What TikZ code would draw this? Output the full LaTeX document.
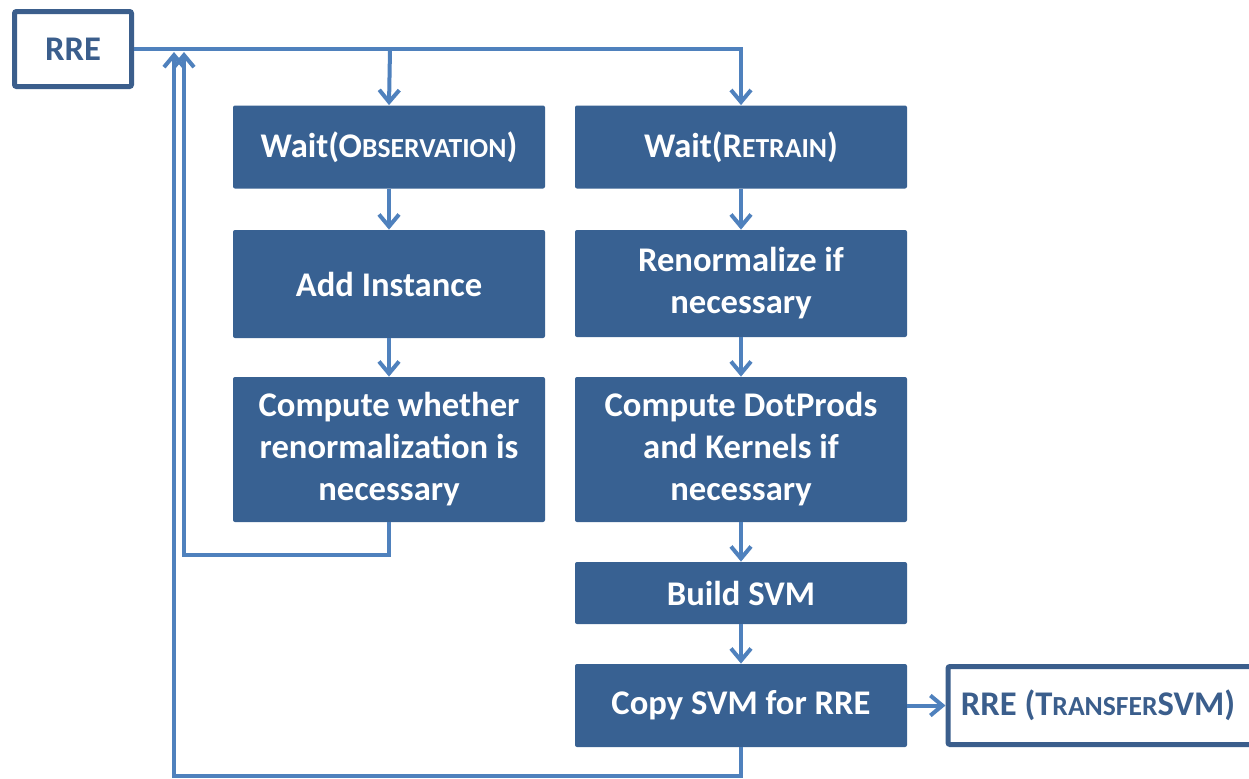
\documentclass[tikz,border=0pt]{standalone}
\usepackage{fontspec}
\setmainfont{Carlito}
\usetikzlibrary{arrows.meta}
\definecolor{boxfill}{HTML}{386192}
\definecolor{lineblue}{HTML}{4F81BD}
\definecolor{rreborder}{HTML}{3B5E8C}
\newcommand{\fsc}[2]{#1{\fontsize{13.8}{13.8}\selectfont #2}}
\begin{document}
\begin{tikzpicture}[x=0.5pt,y=-0.5pt,
  proc/.style={fill=boxfill, text=white, font=\bfseries\fontsize{17.3}{21}\selectfont,
    align=center, rounded corners=1pt, inner sep=0pt},
  outbox/.style={draw=rreborder, line width=2.5pt, fill=white, text=rreborder,
    font=\bfseries\fontsize{17.3}{21}\selectfont, rounded corners=1pt, inner sep=0pt},
  conn/.style={draw=lineblue, line width=2pt},
  arr/.style={conn, -{Straight Barb[length=6pt,width=10pt,line width=2pt]}}
]
\useasboundingbox (0,0) rectangle (1249,778);
\fill[white] (0,0) rectangle (1249,778);

\node[outbox, minimum width=58.5pt, minimum height=37.5pt] (rre) at (73,49) {RRE};

\node[proc, minimum width=156pt, minimum height=41.5pt] (wo) at (389,147) {Wait(\fsc{O}{BSERVATION})};
\node[proc, minimum width=156pt, minimum height=54pt] (add) at (389,284) {Add Instance};
\node[proc, minimum width=156pt, minimum height=72.5pt] (cw) at (389,449.5) {Compute whether\\renormalization is\\necessary};

\node[proc, minimum width=166pt, minimum height=41.5pt] (wr) at (741,147) {Wait(\fsc{R}{ETRAIN})};
\node[proc, minimum width=166pt, minimum height=53.5pt] (ren) at (741,283.5) {Renormalize if\\necessary};
\node[proc, minimum width=166pt, minimum height=72.5pt] (dot) at (741,449.5) {Compute DotProds\\and Kernels if\\necessary};
\node[proc, minimum width=166pt, minimum height=31pt] (svm) at (741,593) {Build SVM};
\node[proc, minimum width=166pt, minimum height=41.5pt] (copy) at (741,705.5) {Copy SVM for RRE};

\node[outbox, minimum width=160pt, minimum height=39pt, anchor=west] (rt) at (945.5,705.5) {};
\node[text=rreborder, font=\bfseries\fontsize{17.3}{21}\selectfont] (rtl) at (1098,705.5) {RRE (\fsc{T}{RANSFER}SVM)};

\coordinate (j1) at (184,52);
\coordinate (j2) at (174,52);
\coordinate (b1) at (390,50);

% top distribution
\draw[arr] (rre.east) -| (wr.north);
\draw[arr] (b1) -- (wo.north);

% left column
\draw[arr] (wo.south) -- (add.north);
\draw[arr] (add.south) -- (cw.north);
\draw[arr] (cw.south) -- ++(0,33) -| (j1);

% right column
\draw[arr] (wr.south) -- (ren.north);
\draw[arr] (ren.south) -- (dot.north);
\draw[arr] (dot.south) -- (svm.north);
\draw[arr] (svm.south) -- (copy.north);
\draw[arr] (copy.east) -- (rt.west);
\draw[arr] (copy.south) -- ++(0,29) -| (j2);
\end{tikzpicture}
\end{document}
